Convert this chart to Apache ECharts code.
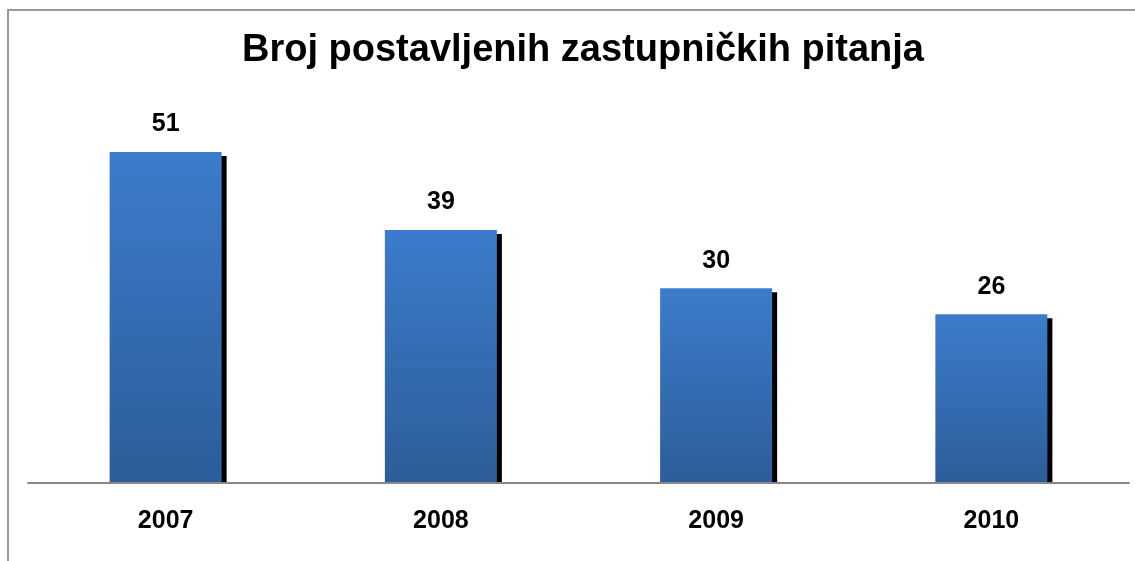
<!DOCTYPE html>
<html>
<head>
<meta charset="utf-8">
<script src="https://cdn.jsdelivr.net/npm/echarts@6/dist/echarts.min.js"></script>
<style>
  html, body { margin: 0; padding: 0; background: #fff; }
  #chart { width: 1135px; height: 561px; }
</style>
</head>
<body>
<div id="chart"></div>
<script>
var years = ['2007', '2008', '2009', '2010'];
var questions = [51, 39, 30, 26];

var FONT = 'Liberation Sans, Arial, sans-serif';
var chart = echarts.init(document.getElementById('chart'));

// bar with a hard black shadow that stops at the axis line
function renderBar(params, api) {
  var cat = api.value(0);
  var val = api.value(1);
  var top = api.coord([cat, val]);
  var base = api.coord([cat, 0]);
  var bw = api.size([1, 0])[0] * 0.407;
  var x0 = top[0] - bw / 2;
  return {
    type: 'group',
    children: [
      {
        type: 'rect',
        shape: { x: x0 + 5, y: top[1] + 4, width: bw, height: base[1] - top[1] - 4 },
        style: { fill: '#000' }
      },
      {
        type: 'rect',
        shape: { x: x0, y: top[1], width: bw, height: base[1] - top[1] },
        style: {
          fill: new echarts.graphic.LinearGradient(0, 0, 0, 1, [
            { offset: 0, color: '#3c7ccc' },
            { offset: 1, color: '#2d5d99' }
          ])
        }
      },
      {
        type: 'text',
        x: top[0],
        y: top[1] - 15,
        style: {
          text: String(val),
          align: 'center',
          verticalAlign: 'bottom',
          fill: '#000',
          font: 'bold 25px ' + FONT
        }
      }
    ]
  };
}

var option = {
  animation: false,
  backgroundColor: '#fff',
  textStyle: { fontFamily: FONT },
  title: {
    text: 'Broj postavljenih zastupničkih pitanja',
    left: 237,
    top: 27,
    textStyle: { fontSize: 38, fontWeight: 'bold', color: '#000' }
  },
  graphic: [
    {
      type: 'polyline',
      shape: { points: [[8, 561], [8, 10], [1135, 10]] },
      style: { stroke: '#9a9a9a', lineWidth: 2, fill: null }
    }
  ],
  grid: { left: 28, right: 6, top: 93.6, bottom: 78 },
  xAxis: {
    type: 'category',
    data: years,
    z: 5,
    axisTick: { show: false },
    axisLine: { lineStyle: { color: '#888', width: 2 } },
    axisLabel: { color: '#000', fontSize: 25, fontWeight: 'bold', margin: 26 }
  },
  yAxis: {
    type: 'value',
    min: 0,
    max: 60,
    show: false,
    splitLine: { show: false }
  },
  series: [
    {
      type: 'custom',
      renderItem: renderBar,
      data: questions.map(function (v, i) { return [i, v]; })
    }
  ]
};
chart.setOption(option);
</script>
</body>
</html>
